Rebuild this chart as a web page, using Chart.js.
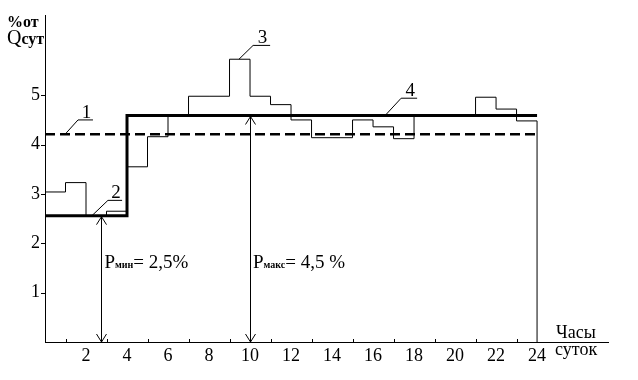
<!DOCTYPE html>
<html>
<head>
<meta charset="utf-8">
<script src="https://cdn.jsdelivr.net/npm/chart.js@4.4.1/dist/chart.umd.min.js"></script>
<style>
  html, body { margin: 0; padding: 0; background: #fff; }
  #wrap { width: 638px; height: 380px; }
</style>
</head>
<body>
<div id="wrap"><canvas id="myChart"></canvas></div>
<script>
// hourly water consumption, % of daily volume (line 3)
const hours = [0, 1, 2, 3, 4, 5, 6, 7, 8, 9, 10, 11, 12, 13, 14, 15, 16, 17, 18, 19, 20, 21, 22, 23];
const hourly = [3.04, 3.23, 2.56, 2.65, 3.55, 4.16, 4.59, 4.98, 4.98, 5.73, 4.98, 4.81,
                4.50, 4.14, 4.14, 4.50, 4.36, 4.12, 4.59, 4.59, 4.59, 4.96, 4.72, 4.48];
// pump regime (line 2 / line 4)
const pumpBreaks = [0, 4, 24];
const pumpRates = [2.56, 4.59];
// average hourly (line 1)
const average = 4.21;
// arrows for Pmin / Pmax
const arrowX = [2.75, 10];
const xTicks = [2, 4, 6, 8, 10, 12, 14, 16, 18, 20, 22, 24];
const yTicks = [1, 2, 3, 4, 5];

const serif = "'Liberation Serif', 'DejaVu Serif', serif";

// step data for the hourly line, closed down to the axis at 24 h
let hourlyData = hours.map((h, i) => ({ x: h, y: hourly[i] }));
hourlyData.push({ x: 24, y: hourly[hourly.length - 1] });
hourlyData.push({ x: 24, y: 0 });

let pumpData = [];
pumpRates.forEach((r, i) => {
    pumpData.push({ x: pumpBreaks[i], y: r });
    pumpData.push({ x: pumpBreaks[i + 1], y: r });
});

const extras = {
    id: 'extras',
    afterDatasetsDraw(chart) {
        const c = chart.ctx;
        const xs = chart.scales.x, ys = chart.scales.y;
        const X = v => xs.getPixelForValue(v);
        const Y = v => ys.getPixelForValue(v);
        c.save();
        c.strokeStyle = '#000';
        c.fillStyle = '#000';
        c.lineWidth = 1;

        // minor ticks on the x axis (odd hours)
        c.beginPath();
        for (let h = 1; h < 24; h += 2) {
            c.moveTo(Math.round(X(h)) + 0.5, Y(0));
            c.lineTo(Math.round(X(h)) + 0.5, Y(0) - 3);
        }
        // small ticks on the y axis
        yTicks.forEach(v => {
            c.moveTo(X(0), Math.round(Y(v)) + 0.5);
            c.lineTo(X(0) - 4, Math.round(Y(v)) + 0.5);
        });
        c.stroke();

        // double arrows
        const tops = [pumpRates[0], pumpRates[1]];
        arrowX.forEach((ax, i) => {
            const px = Math.round(X(ax)) + 0.5;
            const yt = Y(tops[i]) + 1, yb = Y(0);
            c.beginPath();
            c.moveTo(px, yt); c.lineTo(px, yb);
            c.moveTo(px - 5, yt + 8); c.lineTo(px, yt); c.lineTo(px + 5, yt + 8);
            c.moveTo(px - 5, yb - 8); c.lineTo(px, yb); c.lineTo(px + 5, yb - 8);
            c.stroke();
        });

        // numbered leaders
        const leaders = [
            { t: '1', from: [0.98, 4.21], to: [1.61, 4.50], end: 2.34 },
            { t: '2', from: [2.29, 2.56], to: [3.07, 2.87], end: 3.76 },
            { t: '3', from: [9.46, 5.73], to: [10.15, 6.01], end: 10.98 },
            { t: '4', from: [16.59, 4.59], to: [17.37, 4.94], end: 18.15 }
        ];
        c.font = '19px ' + serif;
        c.textAlign = 'center';
        c.textBaseline = 'alphabetic';
        leaders.forEach(l => {
            c.beginPath();
            c.moveTo(X(l.from[0]), Y(l.from[1]));
            c.lineTo(X(l.to[0]), Y(l.to[1]));
            c.lineTo(X(l.end), Y(l.to[1]));
            c.stroke();
            c.fillText(l.t, (X(l.to[0]) + X(l.end)) / 2 + 1, Y(l.to[1]) - 2);
        });

        // P labels
        c.textAlign = 'left';
        function pLabel(x, y, sub, rest) {
            c.font = '19px ' + serif;
            c.fillText('P', x, y);
            let w = c.measureText('P').width;
            c.font = 'bold 10px ' + serif;
            c.fillText(sub, x + w, y);
            w += c.measureText(sub).width;
            c.font = '19px ' + serif;
            c.fillText(rest, x + w, y);
        }
        pLabel(X(arrowX[0]) + 3, 268, 'мин', '= 2,5%');
        pLabel(X(arrowX[1]) + 3, 268, 'макс', '= 4,5 %');

        // axis titles
        c.font = 'bold 16px ' + serif;
        c.fillText('%от', 7, 27);
        c.font = '20px ' + serif;
        c.fillText('Q', 7, 44);
        const qw = c.measureText('Q').width;
        c.font = 'bold 16px ' + serif;
        c.fillText('сут', 7 + qw, 44);

        c.font = '18px ' + serif;
        c.fillText('Часы', 556, 338);
        c.fillText('суток', 555, 355);
        c.restore();
    }
};

const ctx = document.getElementById('myChart').getContext('2d');
const myChart = new Chart(ctx, {
    type: 'line',
    data: {
        datasets: [
            {
                label: 'hourly',
                data: hourlyData,
                stepped: 'before',
                borderColor: '#000',
                borderWidth: 1,
                pointRadius: 0
            },
            {
                label: 'pump',
                data: pumpData,
                borderColor: '#000',
                borderWidth: 3,
                pointRadius: 0
            },
            {
                label: 'average',
                data: [{ x: 0, y: average }, { x: 24, y: average }],
                borderColor: '#000',
                borderWidth: 2.5,
                borderDash: [10, 5],
                pointRadius: 0
            }
        ]
    },
    options: {
        responsive: true,
        maintainAspectRatio: false,
        animation: false,
        layout: { padding: { left: 0, top: 13, right: 30, bottom: 0 } },
        plugins: {
            legend: { display: false },
            tooltip: { enabled: false }
        },
        scales: {
            x: {
                type: 'linear',
                min: 0,
                max: 27.46,
                grid: { display: false, drawTicks: false },
                border: { display: true, color: '#000', width: 1 },
                afterBuildTicks: s => { s.ticks = xTicks.map(v => ({ value: v })); },
                afterFit: s => { s.height = 38; },
                ticks: {
                    autoSkip: false,
                    maxRotation: 0,
                    padding: 3,
                    color: '#000',
                    font: { family: serif, size: 18 }
                }
            },
            y: {
                min: 0,
                max: 6.61,
                grid: { display: false, drawTicks: false },
                border: { display: true, color: '#000', width: 1 },
                afterBuildTicks: s => { s.ticks = yTicks.map(v => ({ value: v })); },
                afterFit: s => { s.width = 45; },
                ticks: {
                    padding: 5,
                    color: '#000',
                    font: { family: serif, size: 18 }
                }
            }
        }
    },
    plugins: [extras]
});
</script>
</body>
</html>
